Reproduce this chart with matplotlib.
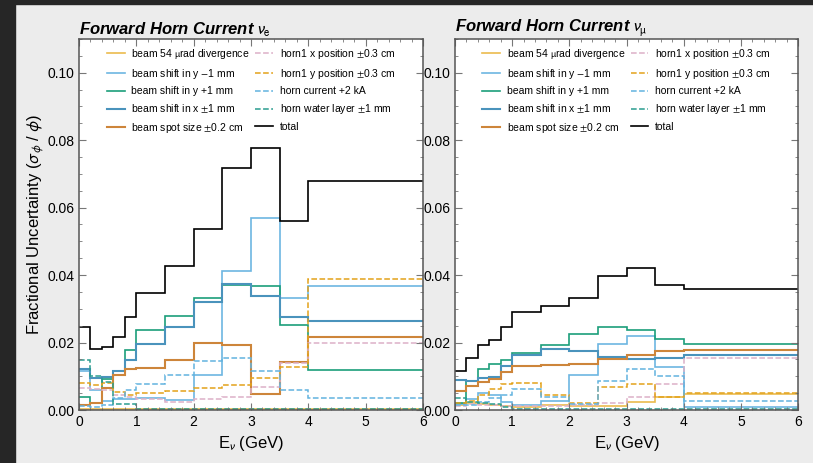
import numpy as np
import matplotlib
matplotlib.use("Agg")
import matplotlib.pyplot as plt
from matplotlib.lines import Line2D
from matplotlib.patches import Rectangle
from matplotlib.ticker import MultipleLocator, FormatStrFormatter

plt.rcParams["font.family"] = ["Liberation Sans", "DejaVu Sans"]
plt.rcParams["mathtext.fontset"] = "stixsans"

# Energy bin edges (GeV)
edges = [0, 0.2, 0.4, 0.6, 0.8, 1.0, 1.5, 2.0, 2.5, 3.0, 3.5, 4.0, 6.0]

# nu_e panel
div_e   = [0.0003, 0.0003, 0.0004, 0.0004, 0.0003, 0.0002, 0.0002, 0.0002, 0.0003, 0.0003, 0.0004, 0.0004]
ym1_e   = [0.0115, 0.0058, 0.0028, 0.0033, 0.0033, 0.0036, 0.0031, 0.0103, 0.0412, 0.0568, 0.0333, 0.0369]
yp1_e   = [0.0038, 0.0020, 0.0092, 0.0117, 0.0178, 0.0236, 0.0280, 0.0333, 0.0372, 0.0369, 0.0253, 0.0120]
x_e     = [0.0122, 0.0095, 0.0097, 0.0117, 0.0147, 0.0196, 0.0247, 0.0319, 0.0374, 0.0338, 0.0275, 0.0265]
spot_e  = [0.0016, 0.0020, 0.0065, 0.0104, 0.0122, 0.0125, 0.0147, 0.0199, 0.0192, 0.0048, 0.0141, 0.0217]
h1x_e   = [0.0065, 0.0062, 0.0058, 0.0043, 0.0038, 0.0033, 0.0023, 0.0033, 0.0040, 0.0068, 0.0140, 0.0198]
h1y_e   = [0.0080, 0.0075, 0.0080, 0.0053, 0.0045, 0.0050, 0.0057, 0.0064, 0.0074, 0.0095, 0.0127, 0.0389]
cur_e   = [0.0012, 0.0008, 0.0015, 0.0035, 0.0060, 0.0078, 0.0104, 0.0144, 0.0155, 0.0116, 0.0059, 0.0037]
water_e = [0.0147, 0.0102, 0.0082, 0.0018, 0.0018, 0.0004, 0.0003, 0.0003, 0.0003, 0.0003, 0.0003, 0.0003]
total_e = [0.0247, 0.0182, 0.0188, 0.0217, 0.0275, 0.0348, 0.0427, 0.0538, 0.0719, 0.0777, 0.0559, 0.0678]

# nu_mu panel
div_m   = [0.0015, 0.0020, 0.0018, 0.0015, 0.0012, 0.0010, 0.0015, 0.0013, 0.0011, 0.0023, 0.0038, 0.0048]
ym1_m   = [0.0018, 0.0033, 0.0050, 0.0043, 0.0023, 0.0015, 0.0028, 0.0104, 0.0196, 0.0218, 0.0127, 0.0008]
yp1_m   = [0.0020, 0.0087, 0.0122, 0.0135, 0.0147, 0.0168, 0.0194, 0.0224, 0.0245, 0.0238, 0.0211, 0.0196]
x_m     = [0.0089, 0.0087, 0.0095, 0.0097, 0.0129, 0.0164, 0.0181, 0.0174, 0.0157, 0.0152, 0.0155, 0.0164]
spot_m  = [0.0055, 0.0070, 0.0082, 0.0092, 0.0114, 0.0129, 0.0132, 0.0137, 0.0150, 0.0164, 0.0176, 0.0179]
h1x_m   = [0.0011, 0.0018, 0.0015, 0.0015, 0.0013, 0.0013, 0.0013, 0.0015, 0.0020, 0.0038, 0.0076, 0.0155]
h1y_m   = [0.0022, 0.0028, 0.0043, 0.0061, 0.0078, 0.0080, 0.0045, 0.0020, 0.0068, 0.0078, 0.0038, 0.0050]
cur_m   = [0.0015, 0.0015, 0.0025, 0.0036, 0.0043, 0.0062, 0.0040, 0.0018, 0.0085, 0.0122, 0.0101, 0.0028]
water_m = [0.0035, 0.0023, 0.0020, 0.0018, 0.0008, 0.0003, 0.0003, 0.0003, 0.0003, 0.0003, 0.0003, 0.0003]
total_m = [0.0117, 0.0154, 0.0194, 0.0208, 0.0245, 0.0290, 0.0307, 0.0333, 0.0398, 0.0420, 0.0371, 0.0358]

labels = ["beam 54 $\\mathrm{\\mu}$rad divergence", "beam shift in y $-$1 mm",
          "beam shift in y +1 mm", "beam shift in x $\\pm$1 mm",
          "beam spot size $\\pm$0.2 cm", "horn1 x position $\\pm$0.3 cm",
          "horn1 y position $\\pm$0.3 cm", "horn current +2 kA",
          "horn water layer $\\pm$1 mm", "total"]
colors = ["#EBBB4E", "#6DB6E2", "#1B9E7A", "#4A93BC", "#CD853A",
          "#DDB0C8", "#E3A21A", "#62B3DF", "#2A9D8F", "black"]
styles = ["-", "-", "-", "-", "-", "--", "--", "--", "--", "-"]
widths = [1.2, 1.2, 1.2, 1.5, 1.5, 1.1, 1.1, 1.1, 1.1, 1.2]

panels = [
    (r"Forward Horn Current $\nu_\mathrm{e}$",
     [div_e, ym1_e, yp1_e, x_e, spot_e, h1x_e, h1y_e, cur_e, water_e, total_e]),
    (r"Forward Horn Current $\nu_\mathrm{\mu}$",
     [div_m, ym1_m, yp1_m, x_m, spot_m, h1x_m, h1y_m, cur_m, water_m, total_m]),
]

fig = plt.figure(figsize=(8.13, 4.63), dpi=100, facecolor="#ececec")
fig.patches.append(Rectangle((0, 0), 15 / 813, 1, transform=fig.transFigure,
                             color="#262626", zorder=0))
fig.patches.append(Rectangle((0, 1 - 4 / 463), 1, 4 / 463, transform=fig.transFigure,
                             color="#262626", zorder=0))

ax_pos = [[79 / 813, 53 / 463, 344 / 813, 371 / 463],
          [455 / 813, 53 / 463, 343 / 813, 371 / 463]]

for i, (title, series) in enumerate(panels):
    ax = fig.add_axes(ax_pos[i])
    for vals, c, ls, lw in zip(series, colors, styles, widths):
        ax.stairs(vals, edges, baseline=None, color=c, ls=ls, lw=lw)
    ax.set_xlim(0, 6)
    ax.set_ylim(0, 0.11)
    ax.xaxis.set_major_locator(MultipleLocator(1))
    ax.xaxis.set_minor_locator(MultipleLocator(0.2))
    ax.yaxis.set_major_locator(MultipleLocator(0.02))
    ax.yaxis.set_minor_locator(MultipleLocator(0.005))
    ax.yaxis.set_major_formatter(FormatStrFormatter("%.2f"))
    ax.tick_params(which="both", direction="in", top=True, right=True,
                   color="#777777", labelsize=10)
    ax.tick_params(which="major", length=5)
    ax.tick_params(which="minor", length=2.5)
    for sp in ax.spines.values():
        sp.set_color("#555555")
        sp.set_linewidth(1.1)
    ax.set_xlabel(r"E$_\nu$ (GeV)", fontsize=12)
    if i == 0:
        ax.set_ylabel(r"Fractional Uncertainty ($\sigma_\phi$ / $\phi$)",
                      fontsize=12, labelpad=1)
    ax.set_title(title, loc="left", fontsize=12, fontweight="bold", style="italic",
                 pad=3)
    handles = [Line2D([], [], color=c, ls=ls, lw=lw)
               for c, ls, lw in zip(colors, styles, widths)]
    ax.legend(handles, labels, ncol=2, loc="upper center", frameon=False,
              fontsize=7.5, handlelength=1.7, handletextpad=0.65,
              columnspacing=0.5, labelspacing=0.56, borderaxespad=0.35,
              bbox_to_anchor=(0.5, 1.0))

fig.savefig("out.png", dpi=100, facecolor=fig.get_facecolor())
